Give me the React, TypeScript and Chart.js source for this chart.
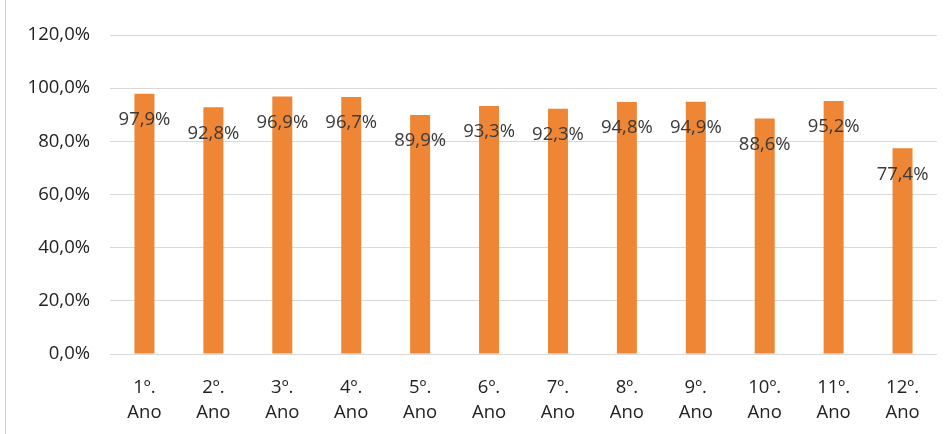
import React, { useEffect, useRef } from "react";
import { Chart, registerables } from "chart.js";

Chart.register(...registerables);

const categories: string[][] = [
  ["1º.", "Ano"], ["2º.", "Ano"], ["3º.", "Ano"], ["4º.", "Ano"],
  ["5º.", "Ano"], ["6º.", "Ano"], ["7º.", "Ano"], ["8º.", "Ano"],
  ["9º.", "Ano"], ["10º.", "Ano"], ["11º.", "Ano"], ["12º.", "Ano"],
];
const values: number[] = [97.9, 92.8, 96.9, 96.7, 89.9, 93.3, 92.3, 94.8, 94.9, 88.6, 95.2, 77.4];
const yMax = 120;
const yStep = 20;

const fmt = (v: number, d: number) => v.toFixed(d).replace(".", ",") + "%";
const FONT = "'Open Sans', Lato, sans-serif";

const labelPlugin = {
  id: "barLabels",
  afterDatasetsDraw(chart: any) {
    const ctx = chart.ctx;
    const meta = chart.getDatasetMeta(0);
    ctx.save();
    ctx.font = `18.5px ${FONT}`;
    ctx.fillStyle = "#3a3a3a";
    ctx.textAlign = "center";
    ctx.textBaseline = "middle";
    meta.data.forEach((bar: any, i: number) => {
      ctx.fillText(fmt(values[i], 1), bar.x, bar.y + 26);
    });
    ctx.restore();
  },
};

export default function App() {
  const ref = useRef<HTMLCanvasElement>(null);
  useEffect(() => {
    if (!ref.current) return;
    const chart = new Chart(ref.current, {
      type: "bar",
      data: {
        labels: categories,
        datasets: [
          {
            data: values,
            backgroundColor: "#EE8635",
            barPercentage: 0.29,
            categoryPercentage: 1,
          },
        ],
      },
      options: {
        animation: false,
        responsive: false,
        layout: { padding: { top: 35, right: 15, left: 0, bottom: 0 } },
        plugins: { legend: { display: false }, tooltip: { enabled: false } },
        scales: {
          x: {
            grid: { display: false },
            border: { display: false },
            ticks: {
              color: "#222222",
              font: { family: FONT, size: 18.5, lineHeight: 1.35 },
              padding: 13,
              maxRotation: 0,
              autoSkip: false,
            },
            afterFit: (axis: any) => {
              axis.height = 80;
            },
          },
          y: {
            min: 0,
            max: yMax,
            ticks: {
              stepSize: yStep,
              color: "#222222",
              font: { family: FONT, size: 18.5 },
              padding: 20,
              callback: (v: any) => fmt(Number(v), 1),
            },
            grid: { color: "#d9d9d9", drawTicks: false, lineWidth: 1 },
            border: { display: false },
            afterFit: (axis: any) => {
              axis.width = 110;
            },
          },
        },
      },
      plugins: [labelPlugin],
    });
    return () => chart.destroy();
  }, []);
  return (
    <div
      style={{
        position: "absolute",
        left: 0,
        top: 0,
        width: 952,
        height: 434,
        background: "#fff",
        overflow: "hidden",
      }}
    >
      <div style={{ position: "absolute", left: 5, top: 0, width: 1, height: 434, background: "#d0d0d0" }} />
      <canvas ref={ref} width={952} height={434} style={{ position: "absolute", left: 0, top: 0 }} />
    </div>
  );
}
